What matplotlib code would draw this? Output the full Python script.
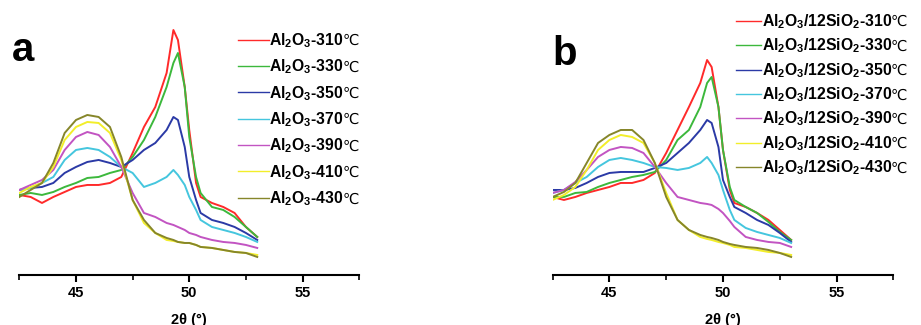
import matplotlib
matplotlib.use("Agg")
import matplotlib.pyplot as plt
from matplotlib.ticker import MultipleLocator
from matplotlib.transforms import IdentityTransform

plt.rcParams['font.family'] = ['Liberation Sans', 'DejaVu Sans']
plt.rcParams['mathtext.fontset'] = 'custom'
plt.rcParams['mathtext.rm'] = 'Liberation Sans:bold'
plt.rcParams['mathtext.bf'] = 'Liberation Sans:bold'
plt.rcParams['mathtext.default'] = 'bf'

# 2theta positions (deg) where values were read
two_theta = [42.5, 43, 43.5, 44, 44.5, 45, 45.5, 46, 46.5, 47, 47.5, 48, 48.5,
             49, 49.3, 49.5, 49.8, 50, 50.3, 50.5, 51, 51.5, 52, 52.5, 53]

temps = ['310', '330', '350', '370', '390', '410', '430']

# panel a: Al2O3 (arbitrary intensity)
a_310 = [80, 78, 72, 78, 83, 88, 90, 90, 92, 98, 122, 148, 168, 202, 245, 235, 188, 145, 92, 78, 72, 68, 62, 48, 38]
a_330 = [80, 82, 80, 83, 88, 92, 97, 98, 102, 105, 118, 135, 158, 188, 212, 222, 188, 138, 98, 82, 68, 65, 58, 48, 38]
a_350 = [85, 87, 88, 92, 102, 108, 113, 115, 112, 108, 115, 125, 132, 145, 158, 155, 128, 98, 75, 62, 55, 52, 48, 42, 35]
a_370 = [85, 87, 92, 98, 115, 125, 127, 125, 118, 108, 102, 88, 92, 98, 105, 100, 90, 78, 65, 55, 48, 45, 42, 38, 33]
a_390 = [85, 90, 95, 105, 125, 138, 143, 140, 128, 108, 82, 62, 58, 52, 50, 48, 45, 42, 40, 38, 35, 33, 32, 30, 27]
a_410 = [82, 88, 92, 108, 135, 148, 153, 152, 142, 115, 75, 52, 42, 35, 34, 33, 32, 32, 30, 28, 27, 25, 23, 22, 20]
a_430 = [78, 85, 92, 112, 142, 155, 160, 158, 148, 118, 75, 55, 42, 37, 35, 33, 32, 32, 30, 28, 27, 25, 23, 22, 18]

# panel b: Al2O3/12SiO2
b_310 = [78, 75, 78, 82, 85, 88, 92, 92, 95, 102, 122, 145, 168, 192, 215, 208, 168, 125, 85, 72, 68, 62, 55, 45, 35]
b_330 = [78, 78, 82, 83, 88, 92, 95, 98, 100, 103, 115, 135, 145, 168, 192, 198, 168, 125, 88, 75, 68, 62, 53, 43, 35]
b_350 = [85, 85, 87, 92, 98, 102, 103, 103, 103, 107, 112, 122, 132, 145, 155, 152, 128, 95, 78, 68, 62, 55, 50, 42, 33]
b_370 = [82, 85, 92, 98, 108, 115, 117, 115, 112, 108, 107, 105, 107, 112, 118, 112, 100, 85, 65, 55, 47, 43, 40, 37, 32]
b_390 = [82, 85, 93, 105, 118, 125, 128, 127, 122, 108, 92, 78, 75, 72, 71, 70, 66, 62, 54, 48, 38, 35, 33, 32, 28]
b_410 = [75, 80, 88, 105, 125, 135, 140, 138, 132, 112, 82, 55, 45, 38, 36, 35, 33, 32, 30, 28, 27, 25, 23, 22, 20]
b_430 = [78, 83, 92, 112, 132, 140, 145, 145, 135, 112, 78, 55, 45, 40, 38, 37, 35, 33, 31, 30, 28, 27, 25, 22, 18]

colors = ['#ff2a2a', '#3cb83c', '#2b3aa6', '#45c6de', '#c254c2', '#f2ee2a', '#86862a']

fig = plt.figure(figsize=(9.21, 3.25), dpi=100)
ax_a = fig.add_axes([0.021, 0.154, 0.369, 0.846])
ax_b = fig.add_axes([0.600, 0.154, 0.370, 0.846])

panels = [
    (ax_a, [a_310, a_330, a_350, a_370, a_390, a_410, a_430], r'Al$_2$O$_3$', 'a',
     (-0.022, 0.778), (0.625, 0.91), 0.49, 1.95),
    (ax_b, [b_310, b_330, b_350, b_370, b_390, b_410, b_430], r'Al$_2$O$_3$/12SiO$_2$', 'b',
     (0.0, 0.764), (0.52, 0.978), 0.36, 1.6),
]

legends = []
for ax, series, name, letter, tpos, lpos, lsp, hlen in panels:
    for s, t, c in zip(series, temps, colors):
        ax.plot(two_theta, s, color=c, lw=1.4, label=name + '-' + t)
    ax.set_xlim(42.5, 57.5)
    ax.set_ylim(0, 275)
    ax.xaxis.set_major_locator(MultipleLocator(5))
    ax.xaxis.set_minor_locator(MultipleLocator(2.5))
    for side in ['top', 'right', 'left']:
        ax.spines[side].set_visible(False)
    ax.spines['bottom'].set_linewidth(1.5)
    ax.set_yticks([])
    ax.tick_params(axis='x', which='major', length=5, width=1.5, labelsize=10.5, pad=3)
    ax.tick_params(axis='x', which='minor', length=3.5, width=1.2)
    for lab in ax.get_xticklabels():
        lab.set_fontweight('bold')
    ax.set_xlabel('2θ (°)', fontsize=10.5, fontweight='bold', labelpad=9)
    ax.text(tpos[0], tpos[1], letter, transform=ax.transAxes, fontsize=29, fontweight='bold',
            va='baseline', ha='left')
    leg = ax.legend(loc='upper left', bbox_to_anchor=lpos, frameon=False, fontsize=11.3,
                    handlelength=hlen, handletextpad=0.05, labelspacing=lsp, borderaxespad=0)
    for line in leg.get_lines():
        line.set_linewidth(1.0)
    for txt in leg.get_texts():
        txt.set_fontweight('bold')
    legends.append(leg)

# the degree-Celsius sign is not in Liberation Sans, so put it after each label in DejaVu Sans
fig.canvas.draw()
renderer = fig.canvas.get_renderer()
for leg in legends:
    for txt in leg.get_texts():
        bb = txt.get_window_extent(renderer)
        x0, y0 = txt.get_transform().transform(txt.get_position())
        fig.text(bb.x1 - 1.5, y0, '℃', transform=IdentityTransform(), family='DejaVu Sans',
                 fontsize=10.5, va='baseline', ha='left')

fig.savefig('out.png', dpi=100)
